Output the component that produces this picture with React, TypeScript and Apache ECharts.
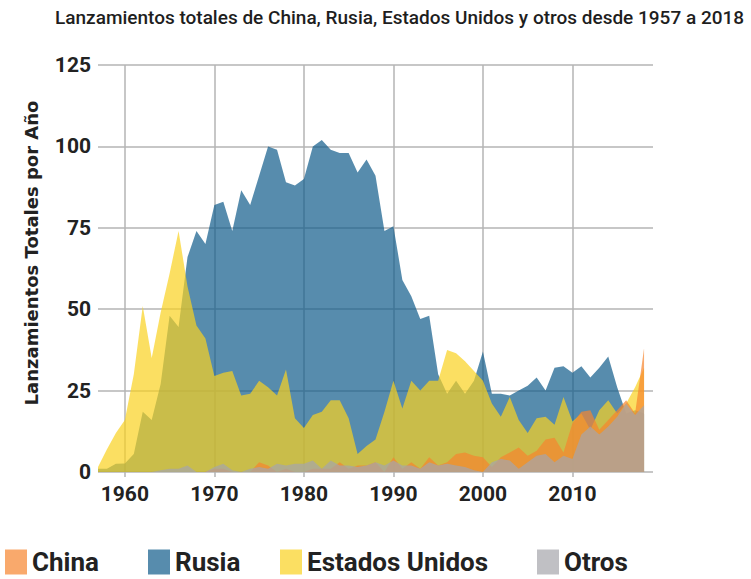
import React, { useEffect, useRef } from "react";
import * as echarts from "echarts";

const TITLE = "Lanzamientos totales de China, Rusia, Estados Unidos y otros desde 1957 a 2018";
const Y_NAME = "Lanzamientos Totales por Año";

const FIRST_YEAR = 1957;
const LAST_AXIS_YEAR = 2019;
const years: string[] = [];
for (let y = FIRST_YEAR; y <= LAST_AXIS_YEAR; y++) years.push(String(y));

const legendOrder = ["China", "Rusia", "Estados Unidos", "Otros"];
const legendLeft = [5, 148, 280, 537];

// 1957 .. 2018
const rusia = [
  1, 1, 2.5, 2.6, 5.5, 18.5, 16, 27, 48, 44.5,
  66, 74, 70, 82, 83, 74, 86.5, 82, 91, 100,
  99, 89, 88, 90, 100, 102, 99, 98, 98, 92,
  96, 91, 74, 75.5, 59, 54, 47, 48, 30, 24,
  28, 24, 28, 37, 24, 24, 23.5, 25, 26.5, 29,
  25, 32, 32.5, 30.5, 32.5, 29, 32, 35.5, 26, 18,
  19, 18,
];

const eeuu = [
  1.5, 7, 12, 16, 30, 51, 35, 49, 61, 74,
  57, 45, 41, 29.5, 30.5, 31, 23.5, 24, 28, 26,
  23.5, 31.5, 16.5, 13.5, 17.5, 18.5, 22, 22, 16.5, 5.5,
  8, 10, 18.5, 28, 19.5, 28, 25, 28, 28, 37.5,
  36.5, 34, 31, 28, 21, 17, 23, 16, 12, 16.5,
  17, 14.5, 23, 15.5, 18, 13, 19, 22, 18, 21,
  26, 32,
];

const china = [
  0, 0, 0, 0, 0, 0, 0, 0, 0, 0,
  0, 0, 0, 1, 1, 0, 0, 0, 3, 2,
  0, 1, 0, 0, 1, 1, 1, 3, 1, 2,
  2, 3, 0, 4.5, 1, 3, 1, 4.5, 2, 3,
  5.5, 6, 5, 4.5, 1.5, 4.5, 6, 7.5, 5, 6.5,
  10, 10.5, 6, 15, 18.5, 19, 13, 16, 19, 22,
  18, 38,
];

const otros = [
  0, 0, 0, 0, 0, 0, 0, 0.5, 1, 1,
  2, 0, 0, 1.5, 2.5, 0.5, 0, 1, 1.5, 1,
  2.5, 2, 2.5, 2.5, 3.5, 1, 3.5, 2, 2, 1.5,
  2, 3, 2, 3.5, 2, 2, 1, 3, 2, 2.5,
  2, 1.5, 0.5, 0, 3, 4, 3.5, 1, 3, 5,
  5.5, 3, 5, 4, 11.5, 14, 11.5, 14, 17, 21,
  17.5, 20.5,
];

const COLORS: Record<string, string> = {
  Rusia: "#0f5b8a",
  "Estados Unidos": "#f9d120",
  China: "#f6852d",
  Otros: "#a5a5ab",
};

const isDecade = (_i: number, v: string) => Number(v) % 10 === 0;

function areaSeries(name: string, data: number[]) {
  return {
    name,
    type: "line",
    data,
    symbol: "none",
    showSymbol: false,
    silent: true,
    lineStyle: { width: 0, opacity: 0 },
    itemStyle: { color: COLORS[name] },
    areaStyle: { color: COLORS[name], opacity: 0.7 },
    emphasis: { disabled: true },
  };
}

export default function App() {
  const ref = useRef<HTMLDivElement>(null);
  useEffect(() => {
    if (!ref.current) return;
    const chart = echarts.init(ref.current, undefined, { renderer: "svg" });
    const tickFont = { fontFamily: "Roboto", fontWeight: "bold" as const, fontSize: 21, color: "#222" };
    chart.setOption({
      animation: false,
      backgroundColor: "#ffffff",
      title: {
        text: TITLE,
        left: 50,
        top: 3,
        textStyle: { fontFamily: "Roboto", fontWeight: 500, fontSize: 19, color: "#1e1e1e" },
      },
      legend: legendOrder.map((name, i) => ({
        data: [name],
        left: legendLeft[i],
        top: 549,
        padding: 0,
        icon: "rect",
        itemWidth: 22,
        itemHeight: 25,
        selectedMode: false,
        itemStyle: { opacity: 0.7 },
        textStyle: {
          fontFamily: "Roboto",
          fontWeight: "bold",
          fontSize: 26,
          lineHeight: 25,
          color: "#222",
        },
      })),
      graphic: [
        {
          type: "text",
          x: 31,
          y: 253,
          rotation: Math.PI / 2,
          style: {
            text: Y_NAME,
            fontFamily: "DejaVu Sans",
            fontWeight: "bold",
            fontSize: 18,
            fill: "#222",
            textAlign: "center",
            textVerticalAlign: "middle",
          },
        },
      ],
      grid: { left: 98, right: 98, top: 65, bottom: 107, containLabel: false },
      xAxis: {
        type: "category",
        data: years,
        boundaryGap: false,
        axisLine: { show: false },
        axisTick: { show: true, interval: isDecade, length: 5, lineStyle: { color: "#b5b5b5", width: 1.5 } },
        axisLabel: { ...tickFont, interval: isDecade, margin: 11 },
        splitLine: { show: true, interval: isDecade, lineStyle: { color: "#b5b5b5", width: 1.5 } },
      },
      yAxis: {
        type: "value",
        min: 0,
        max: 125,
        interval: 25,
        axisLine: { show: false },
        axisTick: { show: false },
        axisLabel: { ...tickFont, margin: 7 },
        splitLine: { show: true, lineStyle: { color: "#b5b5b5", width: 1.5 } },
      },
      series: [
        areaSeries("Rusia", rusia),
        areaSeries("Estados Unidos", eeuu),
        areaSeries("China", china),
        areaSeries("Otros", otros),
      ],
    });
    return () => chart.dispose();
  }, []);
  return <div ref={ref} style={{ position: "fixed", left: 0, top: 0, width: 751, height: 579 }} />;
}
